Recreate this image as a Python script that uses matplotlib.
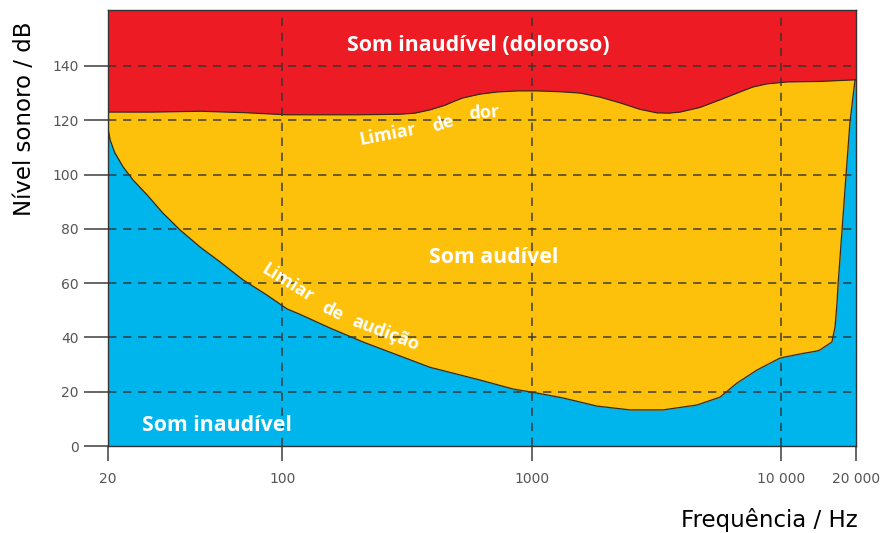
import matplotlib
matplotlib.use("Agg")

import matplotlib.pyplot as plt
import matplotlib.ticker as mticker

# Limiar de audição (Hz, dB)
freq_audicao = [20, 20.4, 21.3, 23.0, 25.2, 28.7, 33.2, 38.9, 46.8, 56.3, 69.6,
                86.8, 104.5, 117.8, 155, 211, 290, 391, 621, 842, 1051, 1337,
                1830, 2482, 3366, 4606, 5696, 6666, 8018, 9912, 11926, 13955,
                14348, 16000, 16480, 16785, 16940, 17580, 18240, 18920, 19820,
                20000]
db_audicao = [117, 112.7, 108, 102.8, 98, 92.5, 85.8, 79.6, 73.3, 67.8, 61.2,
              55.6, 50.5, 48.5, 43.5, 38.3, 33.5, 29, 24.3, 21, 19.5, 17.7,
              14.7, 13.3, 13.3, 15.1, 18, 23.2, 28, 32.4, 33.9, 35,
              35.4, 38.3, 43.8, 52.7, 59.3, 79.6, 99.8, 119.4, 134.9,
              134.9]

# Limiar de dor (Hz, dB)
freq_dor = [20, 30, 47, 70, 104, 200, 296, 340, 391, 449, 490, 530, 620, 727,
            880, 1058, 1300, 1564, 1881, 2262, 2721, 3183, 3550, 3938, 4734,
            5696, 6849, 7700, 8794, 10578, 14500, 20000]
db_dor = [123, 123, 123.3, 122.8, 122, 122, 122.2, 122.6, 123.8, 125.5, 127,
          128.2, 129.6, 130.4, 130.8, 130.8, 130.5, 130, 128.5, 126.4, 124,
          122.7, 122.6, 123, 124.7, 127.5, 130.4, 132.2, 133.4, 134.1, 134.3,
          134.9]

x_ticks = [20, 100, 1000, 10000, 20000]
x_tick_labels = ["20", "100", "1000", "10 000", "20 000"]
y_ticks = [0, 20, 40, 60, 80, 100, 120, 140]

RED = "#ED1C24"
YELLOW = "#FDC10C"
BLUE = "#00B5EC"
EDGE = "#3a2a1a"

fig = plt.figure(figsize=(8.95, 5.33), dpi=100)
ax = fig.add_axes([108 / 895, 1 - 446 / 533, 748 / 895, 436 / 533])

# zonas: doloroso / audível / inaudível
ax.fill_between(freq_dor, db_dor, 200, color=RED, lw=0, zorder=1)
ax.fill_between(freq_dor, 0, db_dor, color=YELLOW, lw=0, zorder=1)
ax.fill_between(freq_audicao, 0, db_audicao, color=BLUE, lw=0, zorder=2)
ax.plot(freq_dor, db_dor, color=EDGE, lw=0.9, zorder=3)
ax.plot(freq_audicao, db_audicao, color=EDGE, lw=0.9, zorder=3)

ax.set_xscale("log")
ax.set_xlim(20, 20000)
ax.set_ylim(0, 160.6)

ax.set_xticks(x_ticks)
ax.set_xticklabels(x_tick_labels)
ax.xaxis.set_minor_locator(mticker.NullLocator())
ax.set_yticks(y_ticks)

ax.tick_params(axis="y", length=17, width=1.4, color="#666666", pad=4,
               labelsize=10, labelcolor="#555555")
ax.tick_params(axis="x", length=11, width=1.4, color="#666666", pad=8,
               labelsize=10, labelcolor="#555555")

# grelha tracejada por cima das zonas
for f in [100, 1000, 10000]:
    ax.axvline(f, color="#333333", lw=1.2, ls=(0, (5, 4)), alpha=0.85, zorder=4)
for y in y_ticks[1:]:
    ax.axhline(y, color="#333333", lw=1.2, ls=(0, (5, 4)), alpha=0.85, zorder=4)

for side in ["left", "bottom", "top", "right"]:
    ax.spines[side].set_color("#333333")
    ax.spines[side].set_linewidth(1.0)
    ax.spines[side].set_zorder(5)

lbl = dict(color="white", fontweight="bold", family=["Open Sans", "DejaVu Sans"],
           ha="center", va="center", zorder=6)
ax.text(609, 147.7, "Som inaudível (doloroso)", fontsize=15.3, **lbl)
ax.text(706, 69.3, "Som audível", fontsize=15.3, **lbl)
ax.text(54.7, 7.7, "Som inaudível", fontsize=15.3, **lbl)

# rótulos curvos: palavra a palavra
ax.text(265, 114.6, "Limiar", fontsize=13, rotation=11, **lbl)
ax.text(441, 118.6, "de", fontsize=13, rotation=18, **lbl)
ax.text(648, 122.7, "dor", fontsize=13, rotation=4, **lbl)

ax.text(104.5, 60, "Limiar", fontsize=13, rotation=-32, **lbl)
ax.text(158, 49.4, "de", fontsize=13, rotation=-27, **lbl)
ax.text(258, 41.6, "audição", fontsize=13, rotation=-21, **lbl)

fig.text(25 / 895, 1 - 119 / 533, "Nível sonoro / dB", rotation=90,
         ha="center", va="center", fontsize=16.5, color="black")
fig.text(858 / 895, 1 - 520 / 533, "Frequência / Hz", ha="right", va="center",
         fontsize=16.5, color="black")

fig.savefig("out.png", dpi=100)
